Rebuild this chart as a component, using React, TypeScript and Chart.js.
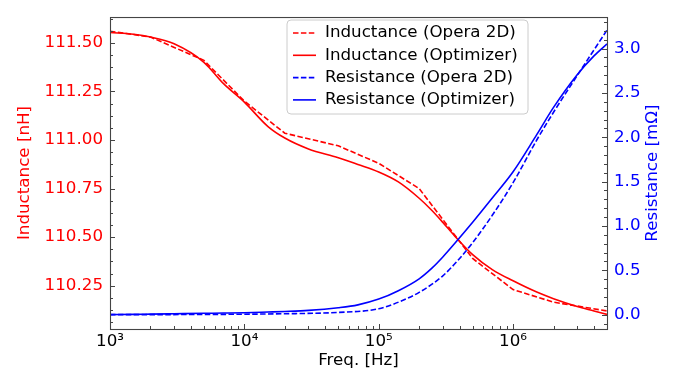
import React, { useEffect, useRef } from "react";
import { Chart, registerables } from "chart.js";
Chart.register(...registerables);

// ---- data ----
const freqOperaL = [1e3, 2e3, 5e3, 1e4, 2e4, 5e4, 1e5, 2e5, 5e5, 1e6, 2e6, 5e6];
const indOpera = [111.56, 111.53, 111.41, 111.2, 111.035, 110.97, 110.88, 110.75, 110.39, 110.23, 110.165, 110.12];

const freqOperaR = [1e3, 2e3, 5e3, 1e4, 2e4, 5e4, 1e5, 1.5e5, 2e5, 3e5, 4e5, 5e5, 7e5, 1e6, 1.5e6, 2e6, 3e6, 5e6];
const resOpera = [0.0, 0.0, 0.002, 0.005, 0.01, 0.025, 0.066, 0.159, 0.251, 0.438, 0.634, 0.812, 1.12, 1.488, 1.969, 2.282, 2.695, 3.209];

const freqOpt = [1e3, 1.5e3, 2e3, 3e3, 5e3, 7e3, 1e4, 1.5e4, 2e4, 3e4, 5e4, 7e4, 1e5, 1.4e5, 2e5, 2.5e5, 3e5, 3.7e5, 5e5, 7e5, 1e6, 1.5e6, 2e6, 3e6, 4e6, 5e6];
const indOpt = [111.553, 111.544, 111.53, 111.495, 111.4, 111.29, 111.195, 111.069, 111.01, 110.954, 110.909, 110.874, 110.835, 110.784, 110.7, 110.636, 110.576, 110.504, 110.41, 110.333, 110.275, 110.217, 110.183, 110.143, 110.12, 110.102];
const resOpt = [0.0, 0.003, 0.006, 0.01, 0.015, 0.018, 0.022, 0.03, 0.036, 0.048, 0.078, 0.11, 0.175, 0.27, 0.404, 0.527, 0.65, 0.807, 1.041, 1.315, 1.611, 2.03, 2.337, 2.706, 2.918, 3.053];

const ticksX = [1e3, 1e4, 1e5, 1e6];
const ticksLeft = [110.25, 110.5, 110.75, 111.0, 111.25, 111.5];
const ticksRight = [0, 0.5, 1.0, 1.5, 2.0, 2.5, 3.0];

const labels = [
  "Inductance (Opera 2D)",
  "Inductance (Optimizer)",
  "Resistance (Opera 2D)",
  "Resistance (Optimizer)",
];

const RED = "#ff0000";
const BLUE = "#0000ff";
const FONT = "'DejaVu Sans', 'Liberation Sans', sans-serif";
const FS = 16.7;
const DASH = [5.5, 2.4];

const SUP: Record<string, string> = { "0": "⁰", "1": "¹", "2": "²", "3": "³", "4": "⁴", "5": "⁵", "6": "⁶", "7": "⁷", "8": "⁸", "9": "⁹" };
const pow10 = (v: number) => "10" + String(Math.round(Math.log10(v))).split("").map((c) => SUP[c] || c).join("");

const decorPlugin = {
  id: "decor",
  afterDraw(chart: any) {
    const ctx = chart.ctx as CanvasRenderingContext2D;
    const { left, right, top, bottom } = chart.chartArea;
    const sx = chart.scales.x, sy = chart.scales.y, sy1 = chart.scales.y1;
    ctx.save();
    ctx.strokeStyle = "#444";
    ctx.lineWidth = 1;
    const tick = (x1: number, y1: number, x2: number, y2: number) => {
      ctx.beginPath(); ctx.moveTo(x1, y1); ctx.lineTo(x2, y2); ctx.stroke();
    };
    for (let d = 3; d <= 6; d++) {
      for (let m = 1; m <= 9; m++) {
        const v = m * Math.pow(10, d);
        if (v > sx.max) break;
        const px = Math.round(sx.getPixelForValue(v)) + 0.5;
        tick(px, bottom, px, bottom - (m === 1 ? 5 : 3));
      }
    }
    for (let v = 110.0625; v < sy.max; v += 0.0625) {
      const py = Math.round(sy.getPixelForValue(v)) + 0.5;
      tick(left, py, left + 3, py);
    }
    ticksLeft.forEach((v) => {
      const py = Math.round(sy.getPixelForValue(v)) + 0.5;
      tick(left, py, left + 5, py);
    });
    for (let i = -1; i <= 33; i++) {
      const v = i / 10;
      if (v < sy1.min || v > sy1.max) continue;
      const py = Math.round(sy1.getPixelForValue(v)) + 0.5;
      tick(right, py, right - 3, py);
    }
    ticksRight.forEach((v) => {
      const py = Math.round(sy1.getPixelForValue(v)) + 0.5;
      tick(right, py, right - 5, py);
    });
    ctx.lineWidth = 1.1;
    ctx.strokeRect(left + 0.5, top + 0.5, right - left, bottom - top);

    // axis titles
    ctx.font = `${FS}px ${FONT}`;
    ctx.textAlign = "center";
    ctx.textBaseline = "middle";
    const cy = (top + bottom) / 2;
    ctx.fillStyle = "#000";
    ctx.fillText("Freq. [Hz]", (left + right) / 2, 361);
    ctx.save();
    ctx.translate(25, cy); ctx.rotate(-Math.PI / 2);
    ctx.fillStyle = RED; ctx.fillText("Inductance [nH]", 0, 0);
    ctx.restore();
    ctx.save();
    ctx.translate(653, cy); ctx.rotate(-Math.PI / 2);
    ctx.fillStyle = BLUE; ctx.fillText("Resistance [mΩ]", 0, 0);
    ctx.restore();

    // legend
    const bx = 287, by = 20, bw = 241, bh = 94, r = 4;
    ctx.beginPath();
    ctx.moveTo(bx + r, by);
    ctx.arcTo(bx + bw, by, bx + bw, by + bh, r);
    ctx.arcTo(bx + bw, by + bh, bx, by + bh, r);
    ctx.arcTo(bx, by + bh, bx, by, r);
    ctx.arcTo(bx, by, bx + bw, by, r);
    ctx.closePath();
    ctx.fillStyle = "rgba(255,255,255,0.85)";
    ctx.fill();
    ctx.strokeStyle = "#cccccc";
    ctx.lineWidth = 1;
    ctx.stroke();
    chart.data.datasets.forEach((ds: any, i: number) => {
      const yy = 33 + i * 22.3;
      ctx.strokeStyle = ds.borderColor;
      ctx.lineWidth = 1.6;
      ctx.setLineDash(ds.borderDash || []);
      ctx.beginPath(); ctx.moveTo(293, yy); ctx.lineTo(316, yy); ctx.stroke();
      ctx.setLineDash([]);
      ctx.fillStyle = "#000";
      ctx.textAlign = "left";
      ctx.textBaseline = "middle";
      ctx.fillText(ds.label, 325, yy);
    });
    ctx.restore();
  },
};

export default function App() {
  const ref = useRef<HTMLCanvasElement | null>(null);
  useEffect(() => {
    if (!ref.current) return;
    const mk = (f: number[], v: number[]) => f.map((x, i) => ({ x, y: v[i] }));
    const chart = new Chart(ref.current, {
      type: "line",
      data: {
        datasets: [
          { label: labels[0], data: mk(freqOperaL, indOpera), yAxisID: "y", borderColor: RED, borderWidth: 1.6, borderDash: DASH, pointRadius: 0, tension: 0, order: 4 },
          { label: labels[1], data: mk(freqOpt, indOpt), yAxisID: "y", borderColor: RED, borderWidth: 1.6, pointRadius: 0, cubicInterpolationMode: "monotone", order: 3 },
          { label: labels[2], data: mk(freqOperaR, resOpera), yAxisID: "y1", borderColor: BLUE, borderWidth: 1.6, borderDash: DASH, pointRadius: 0, cubicInterpolationMode: "monotone", order: 2 },
          { label: labels[3], data: mk(freqOpt, resOpt), yAxisID: "y1", borderColor: BLUE, borderWidth: 1.6, pointRadius: 0, cubicInterpolationMode: "monotone", order: 1 },
        ] as any,
      },
      options: {
        animation: false,
        responsive: false,
        devicePixelRatio: 1,
        layout: { padding: { top: 14, left: 0, right: 0, bottom: 0 } },
        plugins: { legend: { display: false }, tooltip: { enabled: false } },
        scales: {
          x: {
            type: "logarithmic", min: 1000, max: 5e6, position: "bottom",
            grid: { display: false, drawTicks: false }, border: { display: false },
            ticks: { color: "#000", font: { family: FONT, size: FS }, padding: 3, autoSkip: false, maxRotation: 0, minRotation: 0, callback: (v: any) => pow10(Number(v)) },
            afterBuildTicks: (s: any) => { s.ticks = ticksX.map((value) => ({ value })); },
            afterFit: (s: any) => { s.height = 42; },
          },
          y: {
            type: "linear", position: "left", min: 110.027, max: 111.633,
            grid: { display: false, drawTicks: false }, border: { display: false },
            ticks: { color: RED, font: { family: FONT, size: FS }, padding: 7, callback: (v: any) => Number(v).toFixed(2) },
            afterBuildTicks: (s: any) => { s.ticks = ticksLeft.map((value) => ({ value })); },
            afterFit: (s: any) => { s.width = 110; },
          },
          y1: {
            type: "linear", position: "right", min: -0.162, max: 3.356,
            grid: { display: false, drawTicks: false }, border: { display: false },
            ticks: { color: BLUE, font: { family: FONT, size: FS }, padding: 7, callback: (v: any) => Number(v).toFixed(1) },
            afterBuildTicks: (s: any) => { s.ticks = ticksRight.map((value) => ({ value })); },
            afterFit: (s: any) => { s.width = 66; },
          },
        },
      } as any,
      plugins: [decorPlugin],
    });
    return () => chart.destroy();
  }, []);
  return (
    <div style={{ position: "fixed", left: 0, top: 0, width: 673, height: 371, background: "#fff" }}>
      <canvas ref={ref} width={673} height={371} style={{ display: "block" }} />
    </div>
  );
}
